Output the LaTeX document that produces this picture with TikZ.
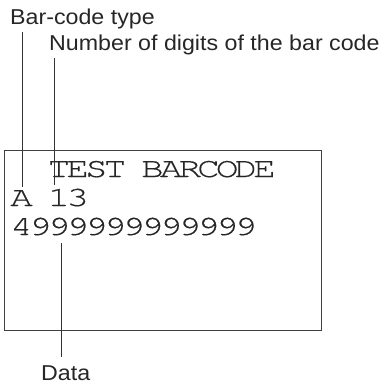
\documentclass[tikz,border=0pt]{standalone}
\usepackage{fontspec}
\setmainfont{Liberation Sans}
\newfontfamily\lblfont[FakeStretch=1.08]{Liberation Sans}
\newfontfamily\prnfont[FakeStretch=1.35,LetterSpace=-14.3,FakeBold=0.4]{TeX Gyre Cursor}
\begin{document}
\begin{tikzpicture}[x=1pt,y=-1pt,
  lbl/.style={anchor=base west,inner sep=0pt,text=black!85,font=\lblfont\fontsize{21.5}{24}\selectfont},
  prn/.style={anchor=base west,inner sep=0pt,text=black!85,font=\prnfont\fontsize{28}{30}\selectfont},
  lead/.style={draw=black!80,line width=0.9pt},
  frame/.style={draw=black!75,line width=1pt}]
\useasboundingbox (0,0) rectangle (389,386);
% labels
\node[lbl] (ltype) at (10,24) {Bar-code type};
\node[lbl] (ldigits) at (49,50) {Number of digits of the bar code};
\node[lbl] (ldata) at (41,380) {Data};
% printed ticket (character cell 18.7pt, column 0 at x=10)
\draw[frame] (4,150) rectangle (321,330);
\node[prn] (ptest) at (47.4,177) {TEST};
\node[prn] (pbarcode) at (140.9,177) {BARCODE};
\node[prn] (ptype) at (10,206) {A};
\node[prn] (pdigits) at (47.4,206) {13};
\node[prn] (pdata) at (10,235) {4999999999999};
% leader lines
\coordinate (a1) at (22,32);
\coordinate (a2) at (22,187);
\coordinate (b1) at (54,58);
\coordinate (b2) at (54,185);
\coordinate (c1) at (61,243);
\coordinate (c2) at (61,357);
\draw[lead] (a1) -- (a2);
\draw[lead] (b1) -- (b2);
\draw[lead] (c1) -- (c2);
\end{tikzpicture}
\end{document}
